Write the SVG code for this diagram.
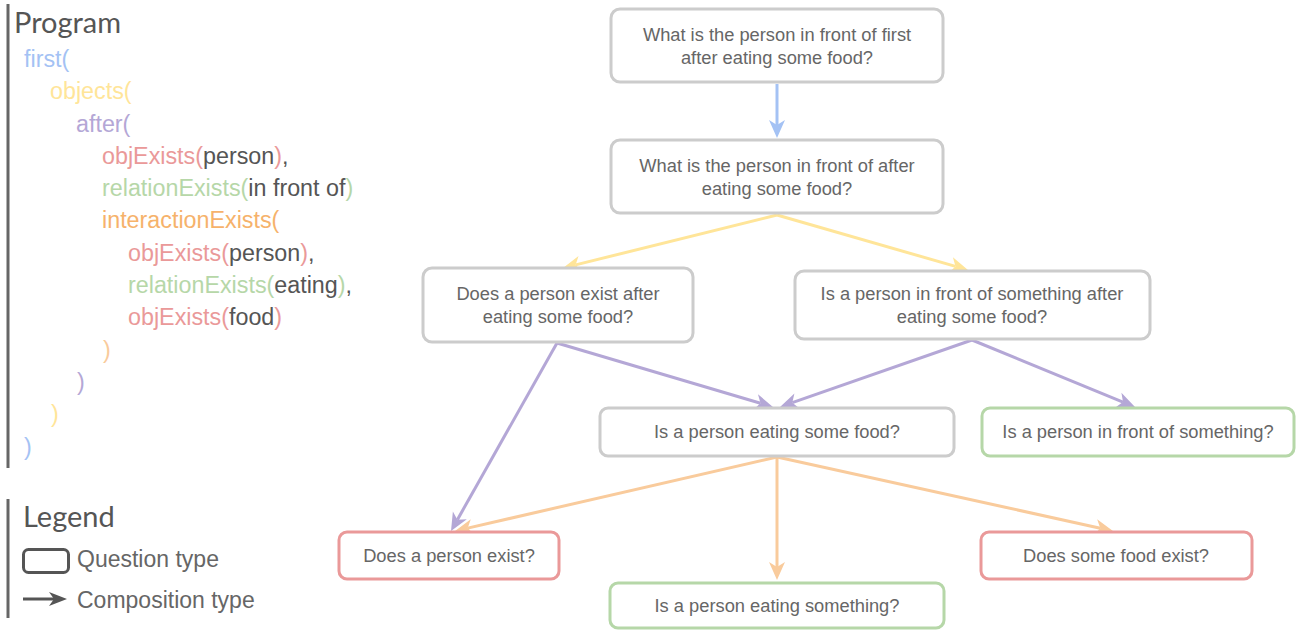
<svg xmlns="http://www.w3.org/2000/svg" width="1298" height="630" viewBox="0 0 1298 630">
<style>
.code{font-family:"Liberation Sans",Arial,sans-serif;font-size:23.3px}
.title{font-family:Lato,"Liberation Sans",sans-serif;font-size:29px;fill:#555}
.leg{font-family:"Liberation Sans",Arial,sans-serif;font-size:23px;fill:#666}
.dk{fill:#555}
.bl{fill:#a4c2f4}.ye{fill:#ffe599}.pu{fill:#b4a7d6}.re{fill:#ea9999}.gr{fill:#b6d7a8}.or{fill:#f9cb9c}.or2{fill:#f6b26b}
.node rect{fill:#fff;stroke-width:3}
.q rect{stroke:#cccccc}
.qr rect{stroke:#ea9999}
.qg rect{stroke:#b6d7a8}
.node text{font-family:"Liberation Sans",Arial,sans-serif;font-size:18.3px;fill:#666;text-anchor:middle}
.bar{stroke:#666;stroke-width:3}
.e{fill:none;stroke-width:3}
</style>
<defs>
<marker id="aB" viewBox="-6 -9 20 18" markerWidth="20" markerHeight="18" refX="0" refY="0" orient="auto" markerUnits="userSpaceOnUse"><path d="M13,0 L-5,-8 L0,0 L-5,8 Z" fill="#a4c2f4"/></marker>
<marker id="aY" viewBox="-6 -9 20 18" markerWidth="20" markerHeight="18" refX="0" refY="0" orient="auto" markerUnits="userSpaceOnUse"><path d="M13,0 L-5,-8 L0,0 L-5,8 Z" fill="#ffe599"/></marker>
<marker id="aP" viewBox="-6 -9 20 18" markerWidth="20" markerHeight="18" refX="0" refY="0" orient="auto" markerUnits="userSpaceOnUse"><path d="M13,0 L-5,-8 L0,0 L-5,8 Z" fill="#b4a7d6"/></marker>
<marker id="aO" viewBox="-6 -9 20 18" markerWidth="20" markerHeight="18" refX="0" refY="0" orient="auto" markerUnits="userSpaceOnUse"><path d="M13,0 L-5,-8 L0,0 L-5,8 Z" fill="#f9cb9c"/></marker>
<marker id="aD" viewBox="-6 -9 20 18" markerWidth="20" markerHeight="18" refX="0" refY="0" orient="auto" markerUnits="userSpaceOnUse"><path d="M13,0 L-5,-7 L0,0 L-5,7 Z" fill="#555"/></marker>
</defs>

<g id="program">
<line class="bar" x1="8" y1="4" x2="8" y2="468"/>
<text class="title" x="14" y="33">Program</text>
<text class="code" x="24" y="67"><tspan class="bl">first(</tspan></text>
<text class="code" x="50" y="99"><tspan class="ye">objects(</tspan></text>
<text class="code" x="76" y="132"><tspan class="pu">after(</tspan></text>
<text class="code" x="102" y="164"><tspan class="re">objExists(</tspan><tspan class="dk">person</tspan><tspan class="re">)</tspan><tspan class="dk">,</tspan></text>
<text class="code" x="102" y="196"><tspan class="gr">relationExists(</tspan><tspan class="dk">in front of</tspan><tspan class="gr">)</tspan></text>
<text class="code" x="102" y="228"><tspan class="or2">interactionExists(</tspan></text>
<text class="code" x="128" y="261"><tspan class="re">objExists(</tspan><tspan class="dk">person</tspan><tspan class="re">)</tspan><tspan class="dk">,</tspan></text>
<text class="code" x="128" y="293"><tspan class="gr">relationExists(</tspan><tspan class="dk">eating</tspan><tspan class="gr">)</tspan><tspan class="dk">,</tspan></text>
<text class="code" x="128" y="325"><tspan class="re">objExists(</tspan><tspan class="dk">food</tspan><tspan class="re">)</tspan></text>
<text class="code" x="103" y="358"><tspan class="or">)</tspan></text>
<text class="code" x="77" y="390"><tspan class="pu">)</tspan></text>
<text class="code" x="51" y="422"><tspan class="ye">)</tspan></text>
<text class="code" x="24" y="455"><tspan class="bl">)</tspan></text>
</g>

<g id="legend">
<line class="bar" x1="8" y1="499" x2="8" y2="618"/>
<text class="title" x="23" y="527">Legend</text>
<rect x="23.5" y="549.5" width="45" height="23" rx="5" fill="none" stroke="#555" stroke-width="3"/>
<text class="leg" x="77" y="567">Question type</text>
<line x1="23" y1="599" x2="54" y2="599" stroke="#555" stroke-width="3" marker-end="url(#aD)"/>
<text class="leg" x="77" y="608">Composition type</text>
</g>

<g id="connectors">
<line class="e" stroke="#a4c2f4" x1="777" y1="84" x2="777" y2="125" marker-end="url(#aB)"/>
<line class="e" stroke="#ffe599" x1="777" y1="215" x2="575.6" y2="264.9" marker-end="url(#aY)"/>
<line class="e" stroke="#ffe599" x1="777" y1="215" x2="955.5" y2="266.4" marker-end="url(#aY)"/>
<line class="e" stroke="#b4a7d6" x1="557" y1="343" x2="457.4" y2="519.7" marker-end="url(#aP)"/>
<line class="e" stroke="#b4a7d6" x1="557" y1="343" x2="760.5" y2="403.3" marker-end="url(#aP)"/>
<line class="e" stroke="#b4a7d6" x1="972" y1="340" x2="792.3" y2="402.7" marker-end="url(#aP)"/>
<line class="e" stroke="#b4a7d6" x1="972" y1="340" x2="1123" y2="402.1" marker-end="url(#aP)"/>
<line class="e" stroke="#f9cb9c" x1="777" y1="457" x2="467.7" y2="528.1" marker-end="url(#aO)"/>
<line class="e" stroke="#f9cb9c" x1="777" y1="457" x2="777" y2="567" marker-end="url(#aO)"/>
<line class="e" stroke="#f9cb9c" x1="777" y1="457" x2="1100.3" y2="528.2" marker-end="url(#aO)"/>
</g>

<g id="n1" class="node q"><rect x="611" y="9" width="332" height="73" rx="9"/><text x="777" y="41">What is the person in front of first</text><text x="777" y="64">after eating some food?</text></g>
<g id="n2" class="node q"><rect x="611" y="140" width="332" height="73" rx="9"/><text x="777" y="172">What is the person in front of after</text><text x="777" y="195">eating some food?</text></g>
<g id="n3" class="node q"><rect x="423" y="268" width="270" height="74" rx="9"/><text x="558" y="300">Does a person exist after</text><text x="558" y="323">eating some food?</text></g>
<g id="n4" class="node q"><rect x="795" y="271" width="355" height="68" rx="9"/><text x="972" y="300">Is a person in front of something after</text><text x="972" y="323">eating some food?</text></g>
<g id="n5" class="node q"><rect x="600" y="408" width="354" height="48" rx="8"/><text x="777" y="438">Is a person eating some food?</text></g>
<g id="n6" class="node qg"><rect x="982" y="408" width="312" height="48" rx="8"/><text x="1138" y="438">Is a person in front of something?</text></g>
<g id="n7" class="node qr"><rect x="339" y="532" width="220" height="47" rx="8"/><text x="449" y="562">Does a person exist?</text></g>
<g id="n8" class="node qg"><rect x="610" y="583" width="334" height="45" rx="8"/><text x="777" y="612">Is a person eating something?</text></g>
<g id="n9" class="node qr"><rect x="981" y="532" width="271" height="47" rx="8"/><text x="1116" y="562">Does some food exist?</text></g>
</svg>
